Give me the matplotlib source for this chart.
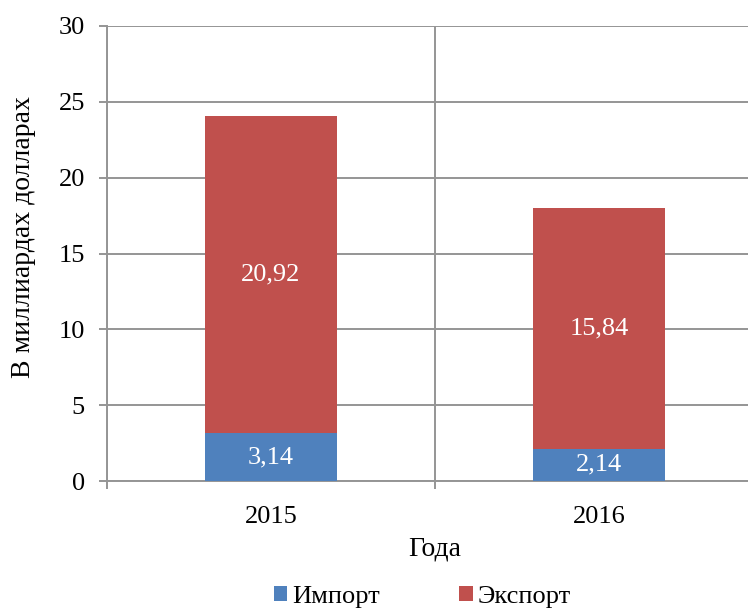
import matplotlib.pyplot as plt
import numpy as np

plt.rcParams['font.family'] = ['Liberation Serif', 'DejaVu Serif']

years = ['2015', '2016']
imports = [3.14, 2.14]
exports = [20.92, 15.84]
labels_imp = ['3,14', '2,14']
labels_exp = ['20,92', '15,84']

blue = '#4F81BD'
red = '#C0504D'
grid_col = '#959595'

fig = plt.figure(figsize=(7.48, 6.09), dpi=100)
ax = fig.add_axes([107 / 748, 1 - 481 / 609, 656 / 748, 455 / 609])

x = np.arange(len(years))
b1 = ax.bar(x, imports, width=0.4, color=blue, label='Импорт', zorder=3)
b2 = ax.bar(x, exports, width=0.4, bottom=imports, color=red, label='Экспорт', zorder=3)

for i in range(len(years)):
    ax.text(x[i], imports[i] / 2, labels_imp[i], ha='center', va='center',
            color='white', fontsize=19, zorder=4)
    ax.text(x[i], imports[i] + exports[i] / 2, labels_exp[i], ha='center', va='center',
            color='white', fontsize=19, zorder=4)

ax.set_xlim(-0.5, 1.5)
ax.set_ylim(0, 30)
ax.set_yticks(range(0, 31, 5))
ax.set_xticks(x)
ax.set_xticklabels(years)
ax.set_xticks([-0.5, 0.5, 1.5], minor=True)
ax.tick_params(axis='x', which='major', length=0, labelsize=19, pad=18)
ax.tick_params(axis='x', which='minor', length=6, width=1.4, color=grid_col)
ax.tick_params(axis='y', length=6, width=1.4, color=grid_col, labelsize=19, pad=10)

ax.grid(axis='y', color=grid_col, linewidth=1.4, zorder=0)
ax.grid(axis='x', which='minor', color=grid_col, linewidth=1.4, zorder=0)
for s in ['top', 'right']:
    ax.spines[s].set_visible(False)
for s in ['left', 'bottom']:
    ax.spines[s].set_color(grid_col)
    ax.spines[s].set_linewidth(1.4)

ax.set_xlabel('Года', fontsize=20, labelpad=6)
ax.set_ylabel('В миллиардах долларах', fontsize=20)
ax.yaxis.set_label_coords(-0.108, 0.536)

fig.legend(handles=[b1, b2], loc='center', bbox_to_anchor=(0.565, 0.02), ncol=2,
           frameon=False, fontsize=19, handlelength=0.5, handleheight=0.5,
           handletextpad=0.2, columnspacing=3.0, borderpad=0, borderaxespad=0)

fig.savefig('out.png', dpi=100)
